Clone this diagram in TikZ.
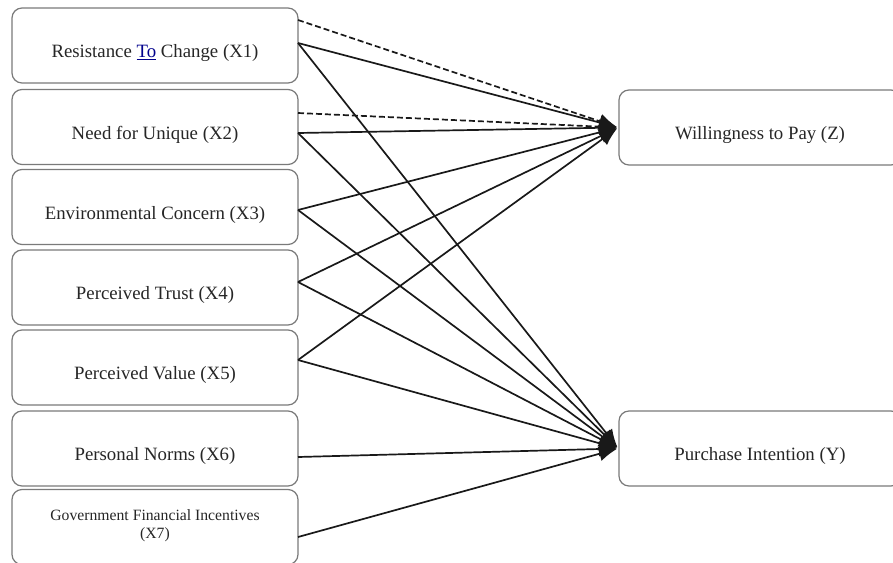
\documentclass[tikz,border=0pt]{standalone}
\usepackage{fontspec}
\setmainfont{Liberation Serif}
\usetikzlibrary{arrows.meta}
\definecolor{boxgray}{HTML}{7A7A7A}
\definecolor{ink}{HTML}{262626}
\begin{document}
\begin{tikzpicture}[x=1pt,y=-1pt,
  box/.style={draw=boxgray,line width=1.2pt,rounded corners=10pt,inner sep=0pt,minimum height=75pt},
  lbox/.style={box,minimum width=286pt},
  rbox/.style={box,minimum width=282pt},
  lbl/.style={font=\fontsize{18.8}{20}\selectfont,text=ink,inner sep=0pt},
  slbl/.style={font=\fontsize{15.7}{18}\selectfont,text=ink,inner sep=0pt,align=center},
  conn/.style={line width=1.7pt,draw=black!90,-{Latex[length=18pt,width=15pt]},shorten >=1.5pt},
  dconn/.style={conn,dash pattern=on 6pt off 3pt}]
\useasboundingbox (0,0) rectangle (893,562);
% left boxes
\node[lbox] (b1) at (155,45.5) {};
\node[lbox] (b2) at (155,127) {};
\node[lbox] (b3) at (155,207) {};
\node[lbox] (b4) at (155,287.5) {};
\node[lbox] (b5) at (155,367.5) {};
\node[lbox] (b6) at (155,448.5) {};
\node[lbox] (b7) at (155,527) {};
% right boxes
\node[rbox] (z) at (760,127.5) {};
\node[rbox] (y) at (760,448.5) {};
% labels
\node[lbl] (t1) at ([yshift=-7.5pt]b1.center) {Resistance \textcolor{blue!55!black}{\underline{To}} Change (X1)};
\node[lbl] (t2) at ([yshift=-7.5pt]b2.center) {Need for Unique (X2)};
\node[lbl] (t3) at ([yshift=-7.5pt]b3.center) {Environmental Concern (X3)};
\node[lbl] (t4) at ([yshift=-7.5pt]b4.center) {Perceived Trust (X4)};
\node[lbl] (t5) at ([yshift=-7.5pt]b5.center) {Perceived Value (X5)};
\node[lbl] (t6) at ([yshift=-7.5pt]b6.center) {Personal Norms (X6)};
\node[slbl] (t7) at (155,526) {Government Financial Incentives\\(X7)};
\node[lbl] (tz) at ([yshift=-7.5pt]z.center) {Willingness to Pay (Z)};
\node[lbl] (ty) at ([yshift=-7.5pt]y.center) {Purchase Intention (Y)};
% connector start points
\coordinate (s1d) at (298,20);
\coordinate (s1) at (298,43);
\coordinate (s2d) at (298,113);
\coordinate (s2) at (298,133);
\coordinate (s3) at (298,210);
\coordinate (s4) at (298,282);
\coordinate (s5) at (298,360);
\coordinate (s6) at (298,457);
\coordinate (s7) at (298,537);
% connectors to Z
\draw[dconn] (s1d) -- (z.west);
\draw[dconn] (s2d) -- (z.west);
\foreach \s in {s1,s2,s3,s4,s5} \draw[conn] (\s) -- (z.west);
% connectors to Y
\foreach \s in {s1,s2,s3,s4,s5,s6,s7} \draw[conn] (\s) -- (y.west);
\end{tikzpicture}
\end{document}
